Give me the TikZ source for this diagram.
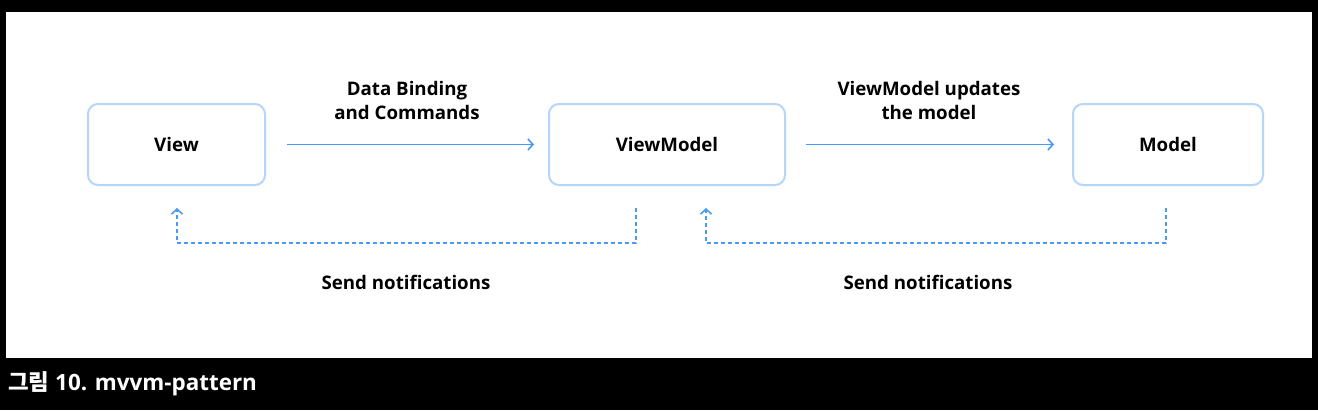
\documentclass[tikz,border=0pt]{standalone}
\usepackage{fontspec}
\setmainfont{Open Sans}
\newfontfamily\krfont{Noto Sans CJK KR}
\usetikzlibrary{arrows.meta,positioning}
\definecolor{boxline}{HTML}{B5D5FB}
\definecolor{flow}{HTML}{4A9AF5}
\tikzstyle{block}=[draw=boxline, line width=2pt, rounded corners=10pt, minimum height=81pt, font=\fontsize{18.7}{22}\selectfont\bfseries, text=black, inner sep=0pt]
\tikzstyle{lab}=[font=\fontsize{18.7}{24}\selectfont\bfseries, align=center, text=black]
\tikzstyle{call}=[draw=flow, line width=1.8pt, -{Straight Barb[length=5pt,width=11pt,line width=1.6pt]}]
\tikzstyle{notify}=[draw=flow, line width=1.8pt, dash pattern=on 4pt off 3pt, -{Straight Barb[length=5pt,width=11pt,line width=1.6pt]}]
\begin{document}
\begin{tikzpicture}[x=1pt,y=-1pt]
          % frame
          \fill[black] (0,0) rectangle (1318,410);
          \fill[white] (6,12) rectangle (1312,358);
          % blocks
          \node at (176.5,144.5) [block, minimum width=177pt] (view) {View};
          \node at (667,144.5) [block, minimum width=236pt] (vm) {ViewModel};
          \node at (1168,144.5) [block, minimum width=190pt] (model) {Model};
          % commands
          \draw[call] ([xshift=21pt]view.east) -- ([xshift=-14pt]vm.west);
          \draw[call] ([xshift=20pt]vm.east) -- ([xshift=-18pt]model.west);
          \node at (407,100) [lab] {Data Binding\\and Commands};
          \node at (929,100) [lab] {ViewModel updates\\the model};
          % notifications
          \coordinate (vmout) at (636,208);
          \coordinate (viewin) at (177,208);
          \coordinate (modelout) at (1166,208);
          \coordinate (vmin) at (706,208);
          \draw[notify] (vmout) -- ++(0,35) -| (viewin);
          \draw[notify] (modelout) -- ++(0,35) -| (vmin);
          \node at (406,282) [lab] {Send notifications};
          \node at (928,282) [lab] {Send notifications};
          % caption
          \node at (8,384) [anchor=west, text=white, inner sep=0pt, font=\fontsize{22.4}{26}\selectfont\bfseries] (cap) {{\krfont\bfseries 그림} 10. mvvm-pattern};
        \end{tikzpicture}
\end{document}
